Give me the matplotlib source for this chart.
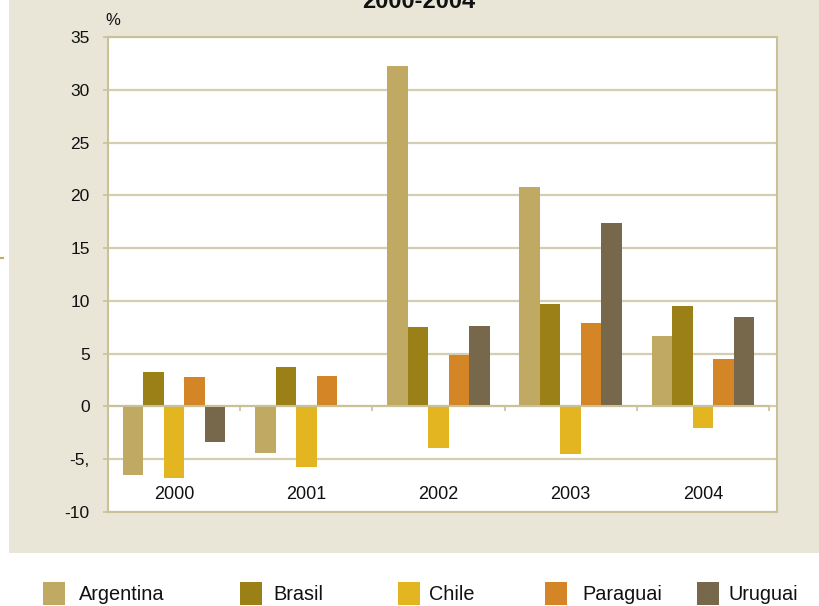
import matplotlib
matplotlib.use("Agg")
import matplotlib.pyplot as plt
from matplotlib.patches import Rectangle
from matplotlib.lines import Line2D
import numpy as np

plt.rcParams['font.family'] = ['Liberation Sans', 'DejaVu Sans']

years = ["2000", "2001", "2002", "2003", "2004"]
series = ["Argentina", "Brasil", "Chile", "Paraguai", "Uruguai"]
argentina = [-6.5, -4.4, 32.3, 20.8, 6.7]
brasil = [3.3, 3.7, 7.5, 9.7, 9.5]
chile = [-6.8, -5.7, -3.9, -4.5, -2.0]
paraguai = [2.8, 2.9, 4.9, 7.9, 4.5]
uruguai = [-3.4, 0.1, 7.6, 17.4, 8.5]
values = [argentina, brasil, chile, paraguai, uruguai]
colors = ["#BFA963", "#9B7F17", "#E3B520", "#D48525", "#77684C"]
yticks = [-10, -5, 0, 5, 10, 15, 20, 25, 30, 35]
ytick_labels = ["-10", "-5,", "0", "5", "10", "15", "20", "25", "30", "35"]
title = "2000-2004"

W, H = 819, 606
fig = plt.figure(figsize=(W / 100, H / 100), dpi=100)
fig.patch.set_facecolor("white")

# beige panel
fig.add_artist(Rectangle((9 / W, 1 - 553 / H), 810 / W, 553 / H,
                         transform=fig.transFigure, facecolor="#E9E6D8",
                         edgecolor="none", zorder=-10))
fig.add_artist(Line2D([0, 3 / W], [1 - 258 / H] * 2, transform=fig.transFigure,
                      color="#BFA963", lw=1.5))

frame = "#C8C199"
grid = "#D3CEB0"
ax = fig.add_axes([108 / W, 1 - 512 / H, (777 - 108) / W, (512 - 37) / H])
ax.set_facecolor("white")

x = np.arange(len(years))
bw = 0.155
for i, (name, vals, c) in enumerate(zip(series, values, colors)):
    ax.bar(x + (i - 2) * bw, vals, width=bw, color=c, edgecolor="none", zorder=3)

ax.set_xlim(-0.5, 4.5 + 8 / 132)
ax.set_ylim(-10, 35)
ax.set_yticks(yticks)
ax.set_yticklabels(ytick_labels)
ax.yaxis.grid(True, color=grid, lw=1.6, zorder=0)
ax.set_axisbelow(True)

for s in ["top", "right", "left"]:
    ax.spines[s].set_color(frame)
    ax.spines[s].set_linewidth(1.5)
ax.spines["bottom"].set_position(("data", 0))
ax.spines["bottom"].set_bounds(-0.5, 4.5)
ax.spines["bottom"].set_color(frame)
ax.spines["bottom"].set_linewidth(1.5)
ax.spines["bottom"].set_zorder(4)
ax.axhline(-10, color=frame, lw=1.5, clip_on=False, zorder=5)

ax.set_xticks(list(x + 0.5))
ax.set_xticklabels([])
ax.tick_params(axis="x", direction="out", length=3.6, width=1.2, color=frame)
ax.tick_params(axis="y", direction="out", length=3.6, width=1.2, color=frame,
               labelsize=12.5, pad=9.5, labelcolor="#111111")

for xi, yr in zip(x, years):
    ax.text(xi, -8.3, yr, ha="center", va="center", fontsize=13, color="#111111")

fig.text(113 / W, 1 - 20.5 / H, "%", ha="center", va="center", fontsize=12,
         color="#111111")
fig.text(418.5 / W, 1 - 8 / H, title, ha="center", va="baseline", fontsize=17,
         fontweight="bold", color="#111111")

# legend
sq_x = [43, 240, 398, 545, 697]
tx_x = [79, 273, 429, 582, 729]
for name, c, sx, tx in zip(series, colors, sq_x, tx_x):
    fig.add_artist(Rectangle((sx / W, 1 - 605 / H), 22 / W, 23 / H,
                             transform=fig.transFigure, facecolor=c,
                             edgecolor="none"))
    fig.text(tx / W, 1 - 595 / H, name, ha="left", va="center", fontsize=14.3,
             color="#111111")

fig.savefig("out.png", dpi=100)
